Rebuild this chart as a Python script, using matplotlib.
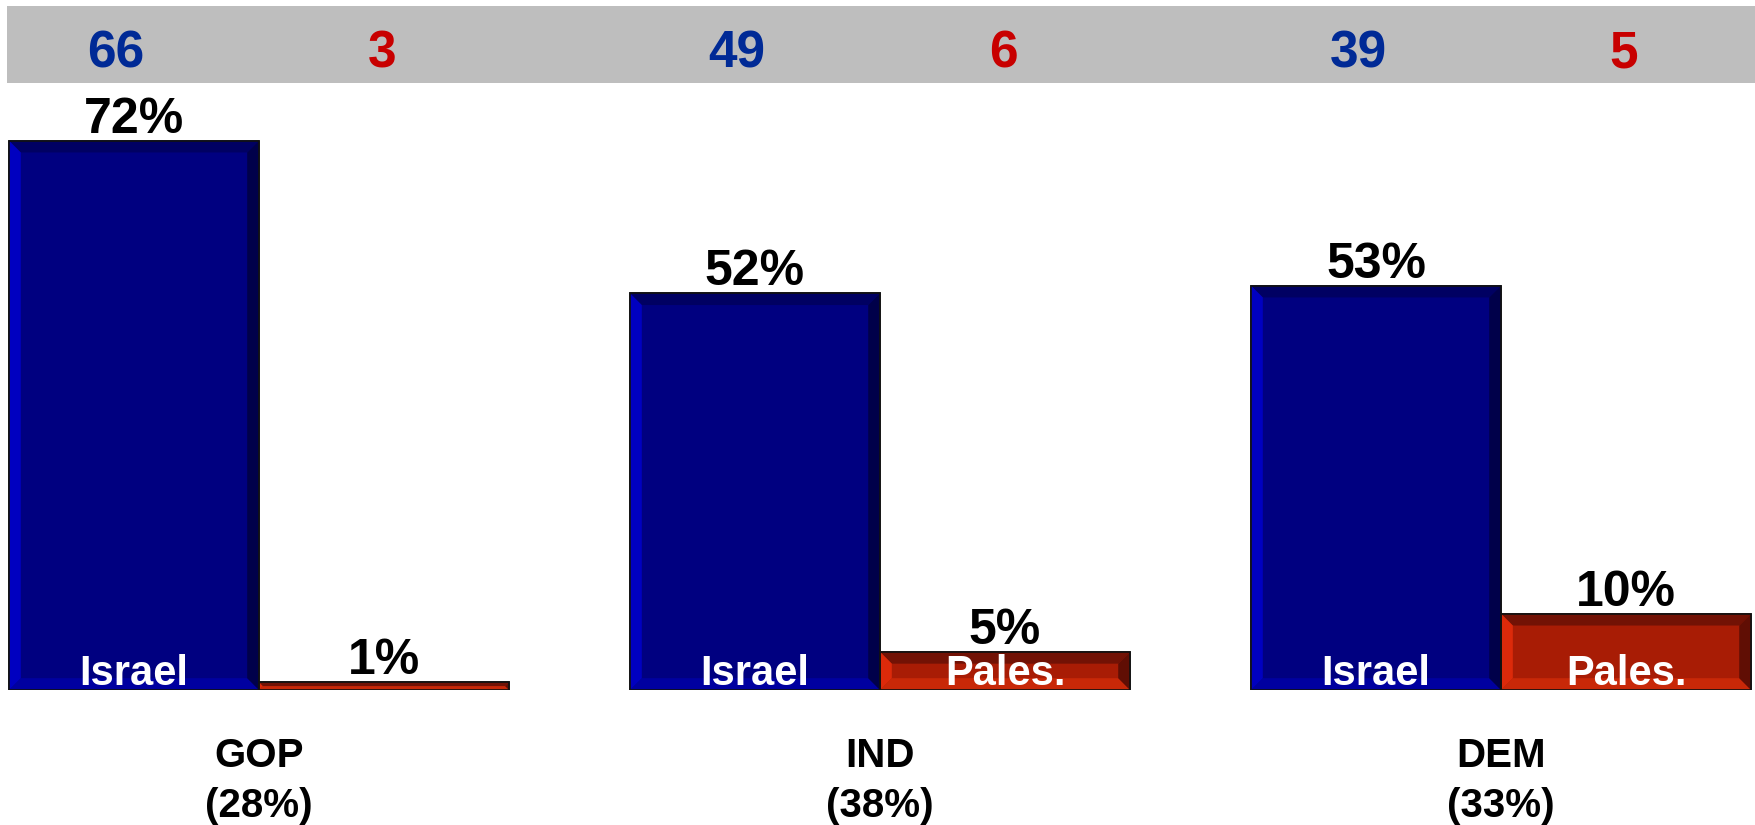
import matplotlib
matplotlib.use("Agg")
import matplotlib.pyplot as plt
from matplotlib.patches import Polygon, Rectangle

plt.rcParams['font.family'] = ['Liberation Sans', 'DejaVu Sans']

parties = ['GOP', 'IND', 'DEM']
party_share = ['(28%)', '(38%)', '(33%)']
israel = [72, 52, 53]
pales = [1, 5, 10]
top_israel = [66, 49, 39]
top_pales = [3, 6, 5]

W, H = 1755, 825
fig = plt.figure(figsize=(W / 100, H / 100), dpi=100)

# gray strip across the top
fig.patches.append(Rectangle((7 / W, 1 - 83 / H), 1 - 7 / W, 77 / H,
                             transform=fig.transFigure, facecolor='#bebebe',
                             edgecolor='none', zorder=0))

ax = fig.add_axes([7 / W, (H - 690) / H, 1 - 7 / W, (690 - 84) / H])
ax.set_xlim(-0.4058, 2.409)
ax.set_ylim(0, 606 / 7.63)
ax.axis('off')

bw = 0.4026
xs = list(range(len(parties)))
b1 = ax.bar([x - bw / 2 for x in xs], israel, bw, color='#000080',
            edgecolor='#111111', linewidth=1.2, zorder=2)
b2 = ax.bar([x + bw / 2 for x in xs], pales, bw, color='#a81c05',
            edgecolor='#111111', linewidth=1.2, zorder=2)

# bevel look: lighter left/bottom, darker top/right
blue_bev = {'top': '#000062', 'left': '#0000c0', 'right': '#00004a', 'bottom': '#0000a0'}
red_bev = {'top': '#721205', 'left': '#dc2a0a', 'right': '#600e04', 'bottom': '#c82808'}
dx, dy = 0.019, 1.55

def bevel(rect, cols):
    x0, y0 = rect.get_x(), rect.get_y()
    w, h = rect.get_width(), rect.get_height()
    x1, y1 = x0 + w, y0 + h
    ey = min(dy, h / 2)
    ex = dx * ey / dy
    polys = {
        'top': [(x0, y1), (x1, y1), (x1 - ex, y1 - ey), (x0 + ex, y1 - ey)],
        'bottom': [(x0, y0), (x1, y0), (x1 - ex, y0 + ey), (x0 + ex, y0 + ey)],
        'left': [(x0, y0), (x0, y1), (x0 + ex, y1 - ey), (x0 + ex, y0 + ey)],
        'right': [(x1, y0), (x1, y1), (x1 - ex, y1 - ey), (x1 - ex, y0 + ey)],
    }
    for k, pts in polys.items():
        ax.add_patch(Polygon(pts, closed=True, facecolor=cols[k], edgecolor='none', zorder=3))
    ax.add_patch(Rectangle((x0, y0), w, h, facecolor='none', edgecolor='#111111',
                           linewidth=1.2, zorder=4))

for r in b1:
    bevel(r, blue_bev)
for r in b2:
    bevel(r, red_bev)

for i, x in enumerate(xs):
    xi = x - bw / 2
    xp = x + bw / 2
    ax.text(xi, israel[i] + 1.05, f'{israel[i]}%', ha='center', va='baseline',
            fontsize=36, fontweight='bold', color='black', zorder=5)
    ax.text(xp, pales[i] + 1.05, f'{pales[i]}%', ha='center', va='baseline',
            fontsize=36, fontweight='bold', color='black', zorder=5)
    ax.text(xi, 0.65, 'Israel', ha='center', va='baseline', fontsize=30,
            fontweight='bold', color='white', zorder=5)
    if pales[i] >= 4:
        ax.text(xp, 0.65, 'Pales.', ha='center', va='baseline', fontsize=30,
                fontweight='bold', color='white', zorder=5)
    ax.text(x, -10.1, parties[i], ha='center', va='baseline', fontsize=29,
            fontweight='bold', color='black', clip_on=False)
    ax.text(x, -16.6, party_share[i], ha='center', va='baseline', fontsize=29,
            fontweight='bold', color='black', clip_on=False)

# counts in the gray strip
ybase = 1 - 67 / H
for i, x in enumerate(xs):
    fx1 = ax.transData.transform((x - 0.230, 0))[0] / W
    fx2 = ax.transData.transform((x + 0.198, 0))[0] / W
    fig.text(fx1, ybase, str(top_israel[i]), ha='center', va='baseline',
             fontsize=37, fontweight='bold', color='#002a96')
    fig.text(fx2, ybase, str(top_pales[i]), ha='center', va='baseline',
             fontsize=37, fontweight='bold', color='#c80000')

fig.savefig('out.png', dpi=100, facecolor='white')
